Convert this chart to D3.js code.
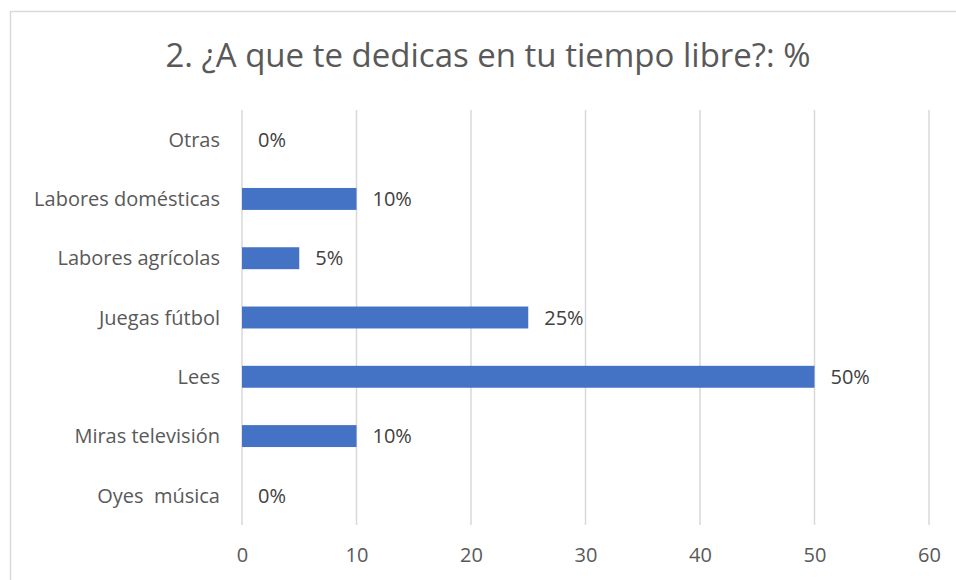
<!DOCTYPE html>
<html>
<head>
<meta charset="utf-8">
<script src="https://cdn.jsdelivr.net/npm/d3@7"></script>
<style>
	body { margin: 0; background: #fff; }
	svg { display: block; font-family: "Open Sans", sans-serif; }
	.grid line { stroke: #d9d9d9; stroke-width: 1.5; }
	.axis text { fill: #595959; font-size: 20px; font-family: "Open Sans", sans-serif; }
	.cat { fill: #595959; font-size: 20px; }
	.val { fill: #404040; font-size: 20px; }
</style>
</head>
<body>
<svg id="chart" width="956" height="580"></svg>
<script>
var title = "2. ¿A que te dedicas en tu tiempo libre?: %";
var categories = ["Otras", "Labores domésticas", "Labores agrícolas", "Juegas fútbol", "Lees", "Miras televisión", "Oyes  música"];
var values = [0, 10, 5, 25, 50, 10, 0];
var xTicks = [0, 10, 20, 30, 40, 50, 60];

var svg = d3.select("#chart");
var margin = {left: 242, right: 27, top: 110, bottom: 55};
var width = 956 - margin.left - margin.right,
	height = 580 - margin.top - margin.bottom;

// chart area frame (cropped at right/bottom like the screenshot)
svg.append("rect")
	.attr("x", 10.5).attr("y", 11.5)
	.attr("width", 960).attr("height", 600)
	.attr("fill", "#fff")
	.attr("stroke", "#d9d9d9")
	.attr("stroke-width", 1.5);

svg.append("text")
	.attr("x", 488).attr("y", 67)
	.attr("text-anchor", "middle")
	.attr("fill", "#595959")
	.style("font-size", "33px")
	.text(title);

var x = d3.scaleLinear().domain([0, 60]).range([0, width]);
var y = d3.scaleBand().domain(categories).range([0, height]).paddingInner(0.63).paddingOuter(0.315);

var g = svg.append("g").attr("transform", "translate(" + margin.left + "," + margin.top + ")");

g.append("g").attr("class", "grid")
	.selectAll("line").data(xTicks).enter().append("line")
	.attr("x1", function(d) { return x(d); })
	.attr("x2", function(d) { return x(d); })
	.attr("y1", 0).attr("y2", height);

var xAxis = g.append("g").attr("class", "axis")
	.attr("transform", "translate(0," + height + ")")
	.call(d3.axisBottom(x).tickValues(xTicks).tickSize(0).tickPadding(23));
xAxis.select(".domain").remove();
xAxis.selectAll("text").attr("font-size", null).attr("font-family", null);

g.selectAll(".bar").data(values).enter().append("rect")
	.attr("class", "bar")
	.attr("x", 0)
	.attr("y", function(d, i) { return y(categories[i]); })
	.attr("width", function(d) { return x(d); })
	.attr("height", y.bandwidth())
	.attr("fill", "#4472c4");

g.selectAll(".cat").data(categories).enter().append("text")
	.attr("class", "cat")
	.attr("x", -22)
	.attr("y", function(d) { return y(d) + y.bandwidth() / 2; })
	.attr("dy", "0.36em")
	.attr("text-anchor", "end")
	.style("white-space", "pre")
	.text(function(d) { return d; });

g.selectAll(".val").data(values).enter().append("text")
	.attr("class", "val")
	.attr("x", function(d) { return x(d) + 16; })
	.attr("y", function(d, i) { return y(categories[i]) + y.bandwidth() / 2; })
	.attr("dy", "0.36em")
	.text(function(d) { return d + "%"; });
</script>
</body>
</html>
